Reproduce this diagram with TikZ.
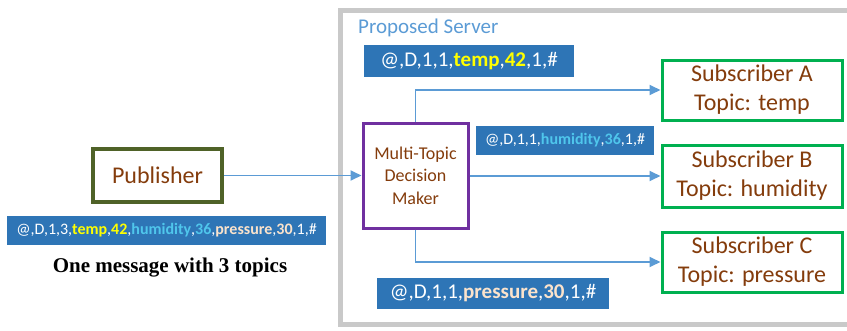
\documentclass[tikz,border=0pt]{standalone}
\usepackage{fontspec}
\setmainfont{Carlito}
\newfontfamily\capfont{Liberation Serif}
\usetikzlibrary{arrows.meta}
\definecolor{barblue}{HTML}{2E75B6}
\definecolor{flowblue}{HTML}{5B9BD5}
\definecolor{txtbrown}{HTML}{843C0C}
\definecolor{pubgreen}{HTML}{4F6228}
\definecolor{subgreen}{HTML}{00B050}
\definecolor{dmpurple}{HTML}{7030A0}
\definecolor{frame}{HTML}{C9C9C9}
\definecolor{tempcol}{HTML}{FFFF00}
\definecolor{humcol}{HTML}{4FC6EC}
\definecolor{prescol}{HTML}{FBE3CC}
\newcommand{\tpc}[2]{\textcolor{#1}{\bfseries #2}}
\tikzset{
  msgbar/.style={fill=barblue, text=white, inner sep=0pt, anchor=center},
  subbox/.style={draw=subgreen, line width=3pt, fill=white, text=txtbrown,
    minimum width=180pt, minimum height=60pt, align=center, inner sep=0pt,
    font=\fontsize{24}{29}\selectfont},
  flow/.style={draw=flowblue, line width=1.8pt,
    -{Triangle[length=11pt,width=10pt]}}
}
\begin{document}
\begin{tikzpicture}[x=1pt,y=-1pt]
\useasboundingbox (0,0) rectangle (847,330);
% server frame
\draw[frame, line width=5pt] (340,10) rectangle (860,324);
\node[anchor=west, text=flowblue, font=\fontsize{21}{25}\selectfont, inner sep=0pt] (srv) at (358,28) {Proposed Server};

% publisher side
\node[draw=pubgreen, line width=3.5pt, text=txtbrown, minimum width=129pt, minimum height=53pt,
  inner sep=0pt, font=\fontsize{24}{29}\selectfont] (pub) at (157.5,175.5) {Publisher};
\node[msgbar, minimum width=319pt, minimum height=29pt, font=\fontsize{16}{19}\selectfont] (pmsg) at (166.5,230.5)
  {@,D,1,3,\tpc{tempcol}{temp},\tpc{tempcol}{42},\tpc{humcol}{humidity},\tpc{humcol}{36},\tpc{prescol}{pressure},\tpc{prescol}{30},1,\#};
\node[font=\capfont\bfseries\fontsize{21}{25}\selectfont, inner sep=0pt] (cap) at (170,268) {One message with 3 topics};

% decision maker
\node[draw=dmpurple, line width=3pt, fill=white, text=txtbrown, minimum width=105pt, minimum height=105pt,
  inner sep=0pt, align=center, font=\fontsize{18}{22.5}\selectfont] (dm) at (415.5,175.5) {Multi-Topic\\Decision\\Maker};

% subscribers
\node[subbox] (sa) at (752,90) {Subscriber A\\Topic: temp};
\node[subbox, minimum height=62pt] (sb) at (752,176) {Subscriber B\\Topic: humidity};
\node[subbox] (sc) at (752,262) {Subscriber C\\Topic: pressure};

% forwarded messages
\node[msgbar, minimum width=210pt, minimum height=32pt, font=\fontsize{21}{25}\selectfont] (tmsg) at (469,61)
  {@,D,1,1,\tpc{tempcol}{temp},\tpc{tempcol}{42},1,\#};
\node[msgbar, minimum width=178pt, minimum height=29pt, font=\fontsize{16}{19}\selectfont] (hmsg) at (565,140.5)
  {@,D,1,1,\tpc{humcol}{humidity},\tpc{humcol}{36},1,\#};
\node[msgbar, minimum width=232pt, minimum height=31pt, font=\fontsize{21}{25}\selectfont] (prmsg) at (493,293.5)
  {@,D,1,1,\tpc{prescol}{pressure},\tpc{prescol}{30},1,\#};

% connectors
\draw[flow] (pub.east) -- (dm.west);
\draw[flow] (dm.north) |- (sa.west);
\draw[flow] (dm.east |- sb.west) -- (sb.west);
\draw[flow] (dm.south) |- (sc.west);
\end{tikzpicture}
\end{document}
